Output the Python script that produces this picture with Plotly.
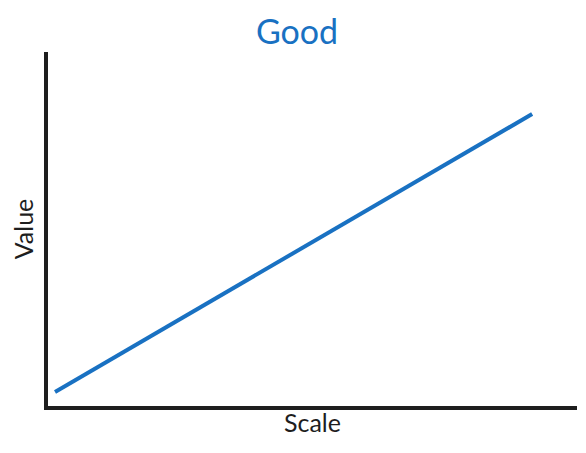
import plotly.graph_objects as go

scale = [0, 10]
value = [0, 10]
title_text = "Good"
x_label = "Scale"
y_label = "Value"

fig = go.Figure()
fig.add_trace(go.Scatter(x=scale, y=value, mode="lines",
                         line=dict(color="#1971c2", width=4), hoverinfo="skip"))

font_family = "Lato, Noto Sans, sans-serif"
fig.update_layout(
    width=578, height=445,
    margin=dict(l=40, r=9, t=44, b=47),
    paper_bgcolor="white", plot_bgcolor="white",
    showlegend=False,
    title=dict(text=title_text, x=0.5, xanchor="center", y=0.946, yanchor="middle",
               font=dict(family=font_family, size=34, color="#1971c2")),
    xaxis=dict(range=[-0.147, 10.94], showgrid=False, zeroline=False, showticklabels=False,
               ticks="", showline=True, linecolor="#1e1e1e", linewidth=4,
               title=dict(text=x_label, standoff=6,
                          font=dict(family=font_family, size=25, color="#1e1e1e"))),
    yaxis=dict(range=[-0.504, 12.23], showgrid=False, zeroline=False, showticklabels=False,
               ticks="", showline=True, linecolor="#1e1e1e", linewidth=4,
               title=dict(text=y_label, standoff=6,
                          font=dict(family=font_family, size=25, color="#1e1e1e"))),
)
fig.write_html("out.html")
